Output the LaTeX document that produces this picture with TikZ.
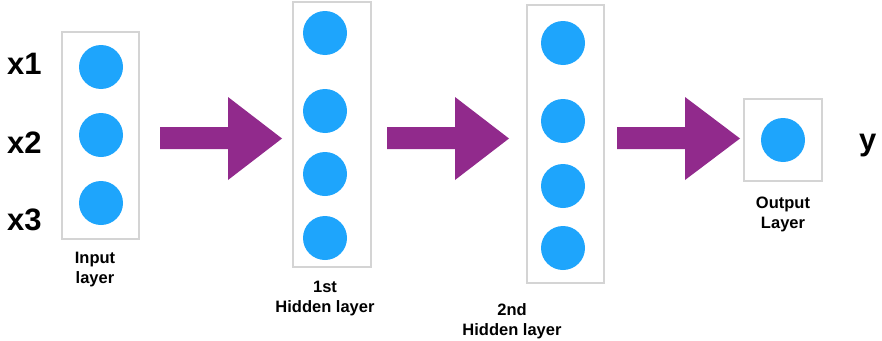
\documentclass[tikz,border=0pt]{standalone}
\usepackage{fontspec}
\setmainfont{Liberation Sans}
\begin{document}
\begin{tikzpicture}[x=1pt,y=-1pt,
  neuron/.style={circle,fill=neuronblue,draw=none,minimum size=44pt,inner sep=0pt},
  layerbox/.style={draw=boxgray,line width=1.4pt,fill=none,inner sep=0pt},
  flow/.style={fill=flowpurple,draw=none},
  varlabel/.style={font=\fontsize{31}{31}\selectfont\bfseries,inner sep=0pt,anchor=base west},
  caption/.style={font=\fontsize{16.5}{20}\selectfont\bfseries,align=center,inner sep=0pt,anchor=north}]
\definecolor{neuronblue}{RGB}{30,165,252}
\definecolor{flowpurple}{RGB}{145,42,140}
\definecolor{boxgray}{RGB}{212,212,212}
\useasboundingbox (0,0) rectangle (882,340);

% layer frames
\node[layerbox,minimum width=77pt,minimum height=207pt] (inbox) at (100.5,135.5) {};
\node[layerbox,minimum width=78pt,minimum height=265pt] (h1box) at (332,134.5) {};
\node[layerbox,minimum width=77pt,minimum height=278pt] (h2box) at (565.5,144) {};
\node[layerbox,minimum width=78pt,minimum height=82pt] (outbox) at (783,140) {};

% input neurons
\node[neuron] (i1) at (101,67) {};
\node[neuron] (i2) at (101,135) {};
\node[neuron] (i3) at (101,203) {};

% first hidden layer
\node[neuron] (a1) at (325,33) {};
\node[neuron] (a2) at (325,111) {};
\node[neuron] (a3) at (325,174) {};
\node[neuron] (a4) at (325,238) {};

% second hidden layer
\node[neuron] (b1) at (563,43) {};
\node[neuron] (b2) at (563,121) {};
\node[neuron] (b3) at (563,186) {};
\node[neuron] (b4) at (563,248) {};

% output neuron
\node[neuron] (o1) at (783,140) {};

% variable labels
\node[varlabel] (x1) at (7,74) {x1};
\node[varlabel] (x2) at (7,153) {x2};
\node[varlabel] (x3) at (7,230) {x3};
\node[varlabel] (yout) at (859,150) {y};

% layer captions
\node[caption] (capin) at (95,252) {Input\\layer};
\node[caption] (caph1) at (325,281) {1st\\Hidden layer};
\node[caption] (caph2) at (512,303) {2nd\\Hidden layer};
\node[caption] (capout) at (783,197) {Output\\Layer};

% block arrows between layers
\fill[flow] (160,127) -- (228,127) -- (228,97) -- (282,138.5) -- (228,180) -- (228,149) -- (160,149) -- cycle;
\fill[flow] (387,127) -- (455,127) -- (455,97) -- (509,138.5) -- (455,180) -- (455,149) -- (387,149) -- cycle;
\fill[flow] (617,127) -- (685,127) -- (685,97) -- (740,138.5) -- (685,180) -- (685,149) -- (617,149) -- cycle;
\end{tikzpicture}
\end{document}
